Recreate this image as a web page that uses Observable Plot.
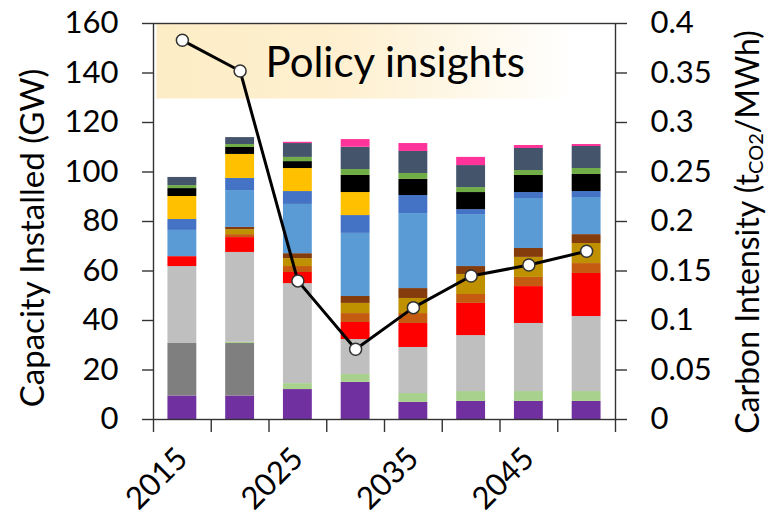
<!DOCTYPE html>
<html>
<head>
<meta charset="utf-8">
<script src="https://cdn.jsdelivr.net/npm/d3@7"></script>
<script src="https://cdn.jsdelivr.net/npm/@observablehq/plot@0.6"></script>
<style>
  body { margin: 0; background: #fff; }
  #chart { position: relative; width: 766px; height: 524px; }
  #chart svg { position: absolute; left: 0; top: 0; }
</style>
</head>
<body>
<div id="chart"></div>
<script>
// Snapshot years and the labelled ones on the time axis
const years = [2015, 2020, 2025, 2030, 2035, 2040, 2045, 2050];
const yearLabels = [2015, 2025, 2035, 2045];

// Installed capacity by technology (GW), stacked bottom to top
const techs = ["Hydro", "Coal", "Biomass", "Gas CCGT", "Solar PV", "Gas CHP", "Geothermal", "Gas OCGT",
  "Onshore wind", "Offshore wind", "Nuclear", "Oil", "Bioenergy CCS", "Storage", "Interconnectors"];
const techColors = ["#7030a0", "#7f7f7f", "#a9d18e", "#bfbfbf", "#ff0000", "#c55a11", "#bf9000", "#843c0c",
  "#5b9bd5", "#4472c4", "#ffc000", "#000000", "#70ad47", "#44546a", "#ff3399"];

const hydro          = [9.5, 9.5, 12.1, 15.0, 6.9, 7.3, 7.3, 7.3];
const coal           = [21.2, 21.2, 0, 0, 0, 0, 0, 0];
const biomass        = [0, 0.5, 2.4, 3.2, 3.6, 4.0, 4.0, 4.0];
const gasCcgt        = [31.1, 36.3, 40.4, 14.1, 18.6, 22.6, 27.5, 30.3];
const solarPv        = [4.0, 6.0, 4.5, 6.9, 9.7, 13.0, 14.9, 17.4];
const gasChp         = [0, 1.2, 2.4, 3.6, 4.0, 3.6, 3.7, 4.0];
const geothermal     = [0, 2.0, 3.2, 4.1, 6.1, 8.1, 8.1, 8.1];
const gasOcgt        = [0, 0.9, 2.0, 2.8, 4.0, 3.2, 3.6, 3.6];
const onshoreWind    = [10.6, 14.9, 19.9, 25.5, 30.3, 21.0, 20.2, 15.0];
const offshoreWind   = [4.4, 4.9, 5.2, 7.2, 7.3, 2.0, 2.4, 2.4];
const nuclear        = [9.3, 9.7, 9.3, 9.3, 0, 0, 0, 0];
const oil            = [3.2, 2.8, 2.8, 6.9, 6.5, 6.9, 6.9, 6.9];
const bioCcs         = [1.2, 1.2, 1.7, 2.4, 2.4, 2.0, 2.0, 2.4];
const storage        = [3.3, 2.8, 5.6, 9.0, 8.9, 8.9, 8.9, 8.9];
const interconnect   = [0, 0, 0.5, 3.1, 3.2, 3.3, 1.2, 0.8];

const seriesValues = [hydro, coal, biomass, gasCcgt, solarPv, gasChp, geothermal, gasOcgt,
  onshoreWind, offshoreWind, nuclear, oil, bioCcs, storage, interconnect];

// Grid carbon intensity (tCO2/MWh)
const carbonIntensity = [0.383, 0.352, 0.140, 0.071, 0.113, 0.145, 0.156, 0.170];

// Axis ticks
const capacityTicks = [0, 20, 40, 60, 80, 100, 120, 140, 160];
const intensityTicks = [0, 0.05, 0.1, 0.15, 0.2, 0.25, 0.3, 0.35, 0.4];

// Annotation banner
const bannerText = "Policy insights";
const banner = [{x1: 2012.8, x2: 2048.9, y1: 129.5, y2: 159.6, tx: 2022.2, ty: 138.3}];

// Layout
const W = 766, H = 524;
const margins = {marginLeft: 153, marginRight: 151, marginTop: 23, marginBottom: 105};
const xDomain = [2012.5, 2052.5];
const boundaries = d3.range(2012.5, 2053, 5);
const halfBar = 1.25;
const font = "Lato, 'Open Sans', sans-serif";
const axisColor = "#333";

// Stack the capacity values per year
const rows = [];
years.forEach((yr, i) => {
  let base = 0;
  techs.forEach((t, k) => {
    const v = seriesValues[k][i];
    if (v > 0) rows.push({year: yr, tech: t, y1: base, y2: base + v});
    base += v;
  });
});
const intensityRows = years.map((yr, i) => ({year: yr, ci: carbonIntensity[i]}));

const barsPlot = Plot.plot({
  width: W, height: H, ...margins,
  style: {fontFamily: font, fontSize: "31px", color: "#000", background: "transparent", overflow: "visible"},
  x: {domain: xDomain},
  y: {domain: [0, 160]},
  color: {domain: techs, range: techColors},
  marks: [
    Plot.rect(banner, {x1: "x1", x2: "x2", y1: "y1", y2: "y2", fill: "url(#bannerFade)"}),
    Plot.text(banner, {x: "tx", y: "ty", text: () => bannerText, textAnchor: "start", lineAnchor: "bottom",
      fontSize: 42, fill: "#000"}),
    Plot.rect(rows, {x1: d => d.year - halfBar, x2: d => d.year + halfBar, y1: "y1", y2: "y2", fill: "tech"}),
    Plot.axisY({anchor: "left", ticks: capacityTicks, tickSize: 11, tickPadding: 24, label: null,
      stroke: axisColor, strokeWidth: 1.4}),
    Plot.axisX({ticks: boundaries, tickSize: 13, tickFormat: () => "", label: null, stroke: axisColor, strokeWidth: 1.4}),
    Plot.axisX({ticks: yearLabels, tickSize: 0, tickRotate: -45, tickPadding: 34, tickFormat: d => String(d), label: null}),
    Plot.frame({stroke: axisColor, strokeWidth: 1.4})
  ]
});

const linePlot = Plot.plot({
  width: W, height: H, ...margins,
  style: {fontFamily: font, fontSize: "31px", color: "#000", background: "transparent", overflow: "visible"},
  x: {domain: xDomain, axis: null},
  y: {domain: [0, 0.4], axis: null},
  marks: [
    Plot.axisY({anchor: "right", ticks: intensityTicks, tickSize: 11, tickPadding: 24, label: null,
      tickFormat: d => String(+d.toFixed(2)), stroke: axisColor, strokeWidth: 1.4}),
    Plot.line(intensityRows, {x: "year", y: "ci", stroke: "#000", strokeWidth: 3}),
    Plot.dot(intensityRows, {x: "year", y: "ci", r: 6, fill: "#fff", stroke: "#333", strokeWidth: 1.5})
  ]
});

const chart = document.getElementById("chart");
chart.append(barsPlot, linePlot);

// Banner gradient: pale amber fading to white
const defs = d3.select(barsPlot).insert("defs", ":first-child");
const grad = defs.append("linearGradient").attr("id", "bannerFade").attr("x1", "0").attr("x2", "1").attr("y1", "0").attr("y2", "0");
grad.append("stop").attr("offset", "0").attr("stop-color", "#fdedc6");
grad.append("stop").attr("offset", "0.45").attr("stop-color", "#fef0d0");
grad.append("stop").attr("offset", "1").attr("stop-color", "#ffffff");

// Axis titles (baseline faces right once rotated)
d3.select(barsPlot).append("text")
  .attr("transform", "translate(44,238) rotate(-90)")
  .attr("text-anchor", "middle")
  .attr("font-family", font).attr("font-size", 33).attr("fill", "#000")
  .text("Capacity Installed (GW)");

const rt = d3.select(linePlot).append("text")
  .attr("transform", "translate(759,232) rotate(-90)")
  .attr("text-anchor", "middle")
  .attr("font-family", font).attr("font-size", 32).attr("fill", "#000");
rt.append("tspan").text("Carbon Intensity (t");
rt.append("tspan").attr("font-size", 20).attr("dy", 4).text("CO2");
rt.append("tspan").attr("dy", -4).text("/MWh)");
</script>
</body>
</html>
